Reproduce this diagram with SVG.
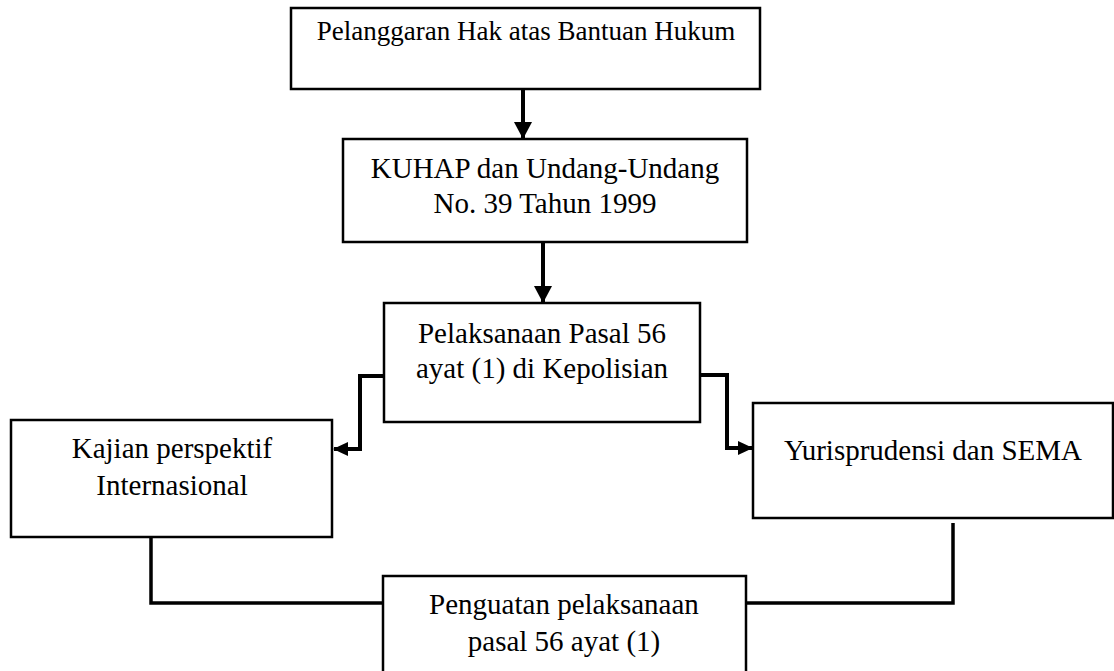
<svg xmlns="http://www.w3.org/2000/svg" width="1114" height="671" viewBox="0 0 1114 671">
<style>
.box{fill:#fff;stroke:#000;stroke-width:2.5}
.t{font-family:"Liberation Serif","Times New Roman",serif;font-size:29px;fill:#000;text-anchor:middle}
.conn{fill:none;stroke:#000;stroke-width:4;stroke-linejoin:miter}
.line{fill:none;stroke:#000;stroke-width:3.5}
</style>
<defs>
<marker id="ah" markerUnits="userSpaceOnUse" markerWidth="18" markerHeight="18" refX="16" refY="9" orient="auto">
<path d="M0,0 L17,9 L0,18 Z" fill="#000"/>
</marker>
<marker id="ahs" markerUnits="userSpaceOnUse" markerWidth="16" markerHeight="16" refX="14" refY="8" orient="auto">
<path d="M0,1 L15,8 L0,15 Z" fill="#000"/>
</marker>
</defs>
<rect width="1114" height="671" fill="#fff"/>
<g id="connectors">
<path class="conn" d="M523,89 L523,138" marker-end="url(#ah)"/>
<path class="conn" d="M543,242 L543,302" marker-end="url(#ah)"/>
<path class="conn" d="M384,376 L360,376 L360,449 L334,449" marker-end="url(#ahs)"/>
<path class="conn" d="M700,375 L727,375 L727,448 L752,448" marker-end="url(#ahs)"/>
<path class="line" d="M151,533 L151,603 L383,603"/>
<path class="line" d="M953,523 L953,603 L746,603"/>
</g>
<g id="n1">
<rect class="box" x="291" y="8" width="469" height="81"/>
<text class="t" x="526" y="40" style="font-size:27px">Pelanggaran Hak atas Bantuan Hukum</text>
</g>
<g id="n2">
<rect class="box" x="343" y="139" width="404" height="103"/>
<text class="t" x="545" y="178">KUHAP dan Undang-Undang</text>
<text class="t" x="545" y="213">No. 39 Tahun 1999</text>
</g>
<g id="n3">
<rect class="box" x="384" y="303" width="316" height="119"/>
<text class="t" x="542" y="343">Pelaksanaan Pasal 56</text>
<text class="t" x="542" y="378">ayat (1) di Kepolisian</text>
</g>
<g id="n4">
<rect class="box" x="11" y="420" width="321" height="117"/>
<text class="t" x="172" y="458">Kajian perspektif</text>
<text class="t" x="172" y="495">Internasional</text>
</g>
<g id="n5">
<rect class="box" x="753" y="403" width="360" height="115"/>
<text class="t" x="933" y="460">Yurisprudensi dan SEMA</text>
</g>
<g id="n6">
<rect class="box" x="383" y="576" width="363" height="104"/>
<text class="t" x="564" y="614">Penguatan pelaksanaan</text>
<text class="t" x="564" y="651">pasal 56 ayat (1)</text>
</g>
</svg>
